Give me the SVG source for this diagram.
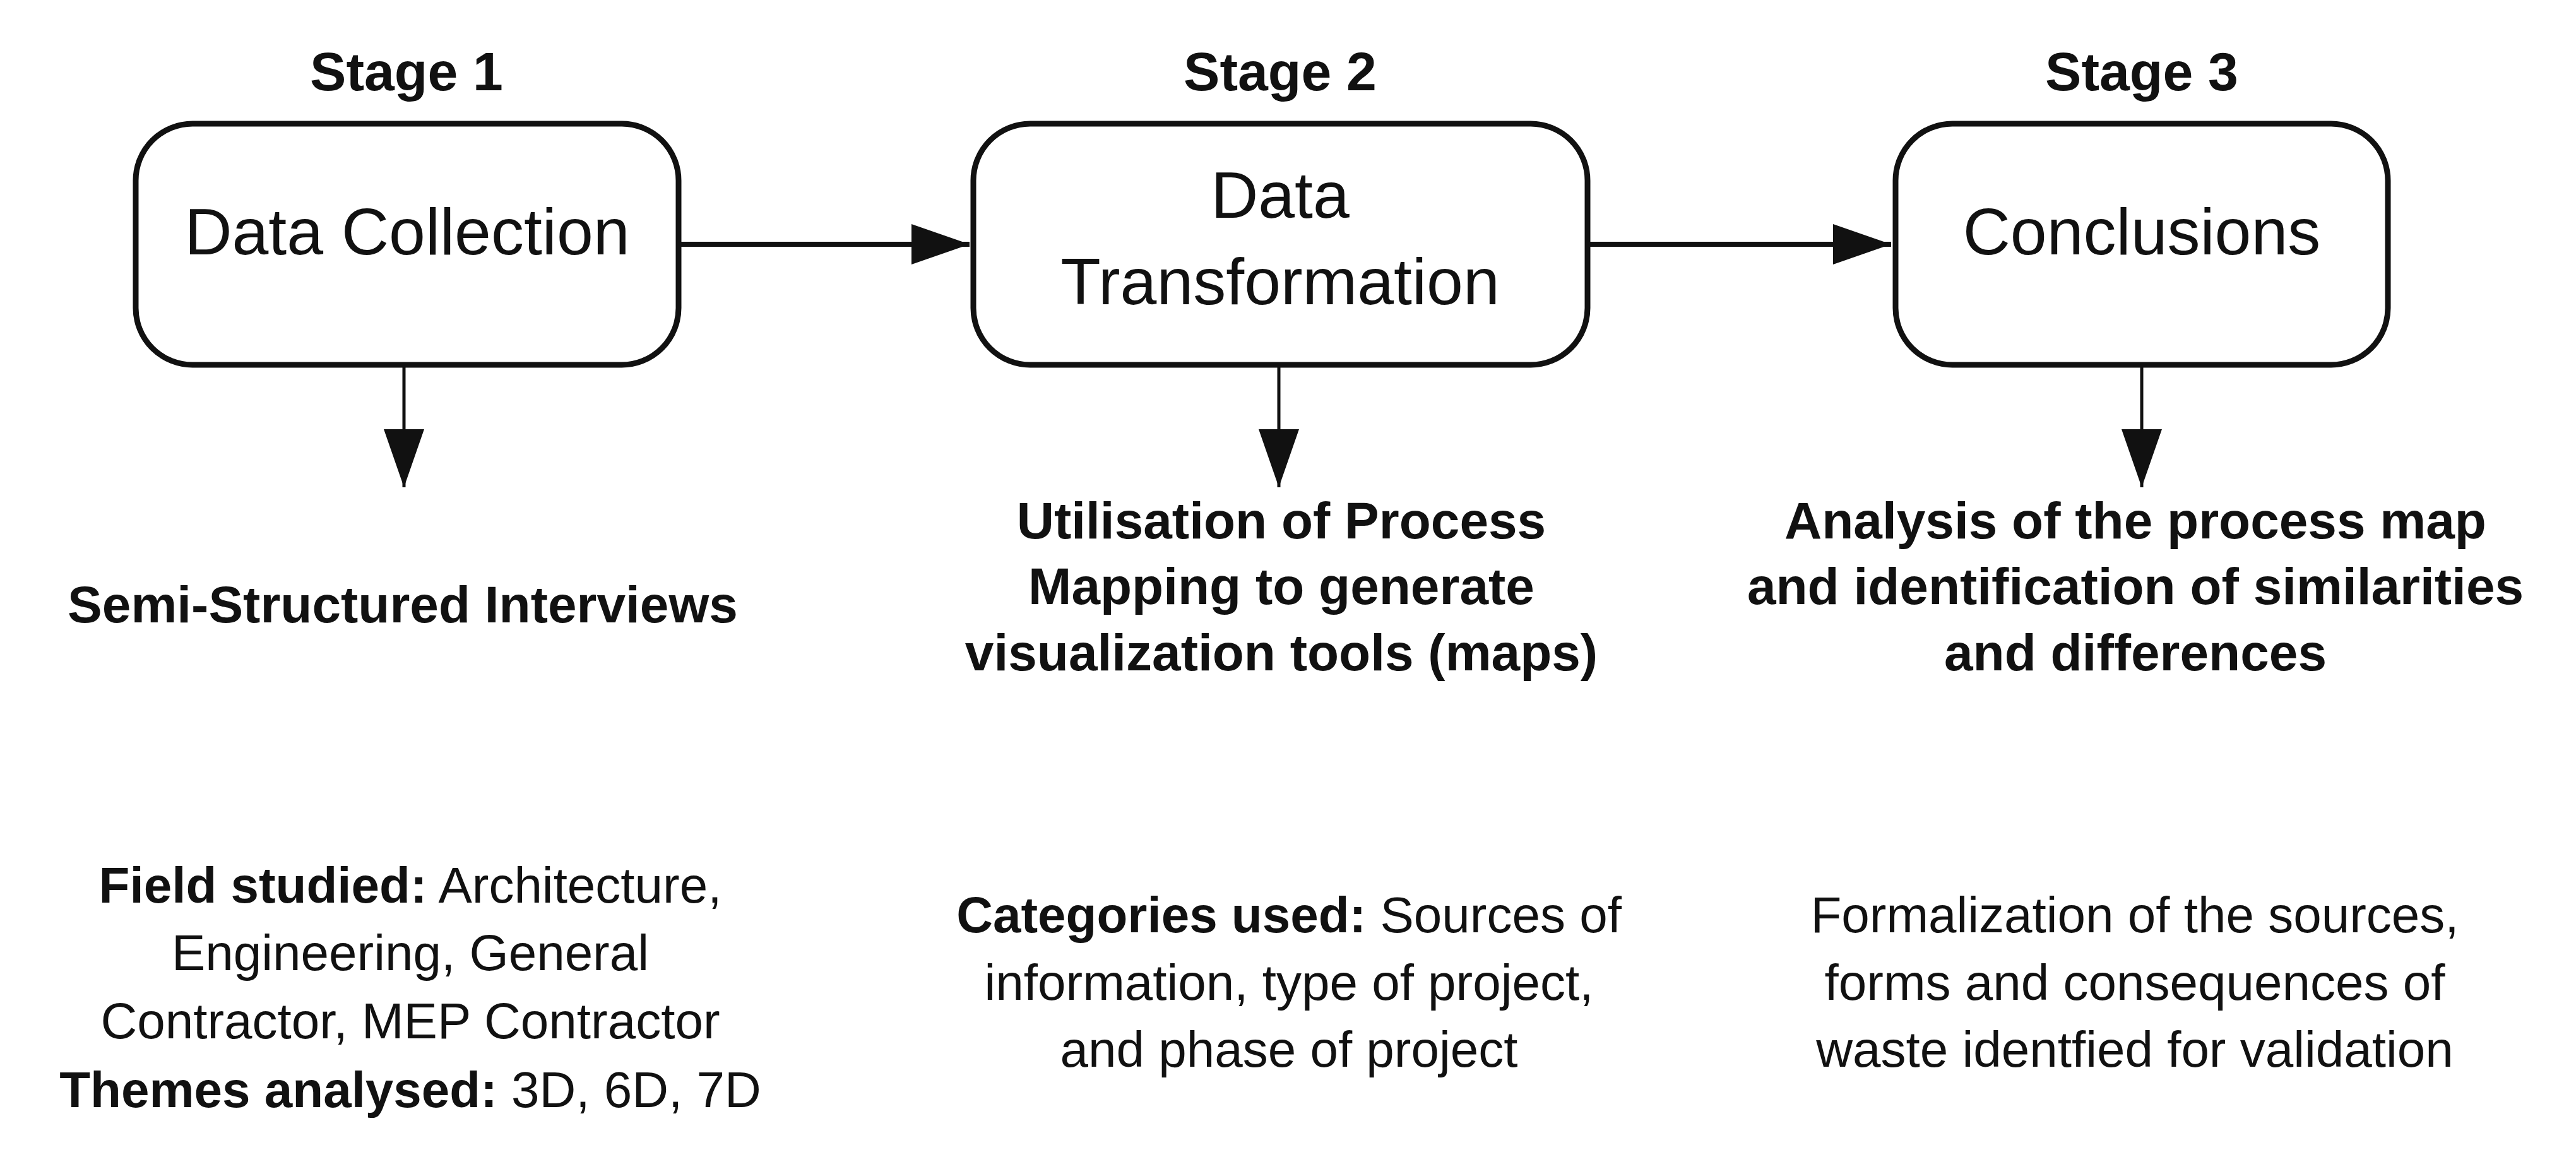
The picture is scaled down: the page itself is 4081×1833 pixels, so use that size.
<svg xmlns="http://www.w3.org/2000/svg" width="4081" height="1833" viewBox="0 0 4081 1833">
<style>
text{font-family:"Liberation Sans",Arial,sans-serif;fill:#111;text-anchor:middle}
.st{font-size:86px;font-weight:bold}
.nt{font-size:104px}
.bd{font-size:82px;font-weight:bold}
.rg{font-size:80px}
.box{fill:#fff;stroke:#111;stroke-width:9}
.con{stroke:#111;stroke-width:8;fill:none}
.conv{stroke:#111;stroke-width:5;fill:none}
</style>
<defs>
<marker id="ah" markerUnits="userSpaceOnUse" markerWidth="95" markerHeight="70" refX="92" refY="32" orient="auto" viewBox="0 0 95 64"><path d="M0,0 L92,32 L0,64 Z" fill="#111"/></marker>
</defs>
<rect width="4081" height="1833" fill="#fff"/>
<g id="stage1">
<text class="st" x="644" y="143">Stage 1</text>
<rect class="box" x="215" y="196" width="860" height="382" rx="90"/>
<text class="nt" x="645" y="403">Data Collection</text>
</g>
<g id="stage2">
<text class="st" x="2028" y="143">Stage 2</text>
<rect class="box" x="1542" y="196" width="973" height="382" rx="90"/>
<text class="nt" x="2028" y="345">Data</text>
<text class="nt" x="2028" y="482">Transformation</text>
</g>
<g id="stage3">
<text class="st" x="3393" y="143">Stage 3</text>
<rect class="box" x="3003" y="196" width="780" height="382" rx="90"/>
<text class="nt" x="3393" y="403">Conclusions</text>
</g>
<g id="connectors">
<line class="con" x1="1079" y1="387" x2="1536" y2="387" marker-end="url(#ah)"/>
<line class="con" x1="2519" y1="387" x2="2996" y2="387" marker-end="url(#ah)"/>
<line class="conv" x1="640" y1="582" x2="640" y2="772" marker-end="url(#ah)"/>
<line class="conv" x1="2026" y1="582" x2="2026" y2="772" marker-end="url(#ah)"/>
<line class="conv" x1="3393" y1="582" x2="3393" y2="772" marker-end="url(#ah)"/>
</g>
<g id="out1">
<text class="bd" x="638" y="986">Semi-Structured Interviews</text>
</g>
<g id="out2">
<text class="bd" x="2030" y="853">Utilisation of Process</text>
<text class="bd" x="2030" y="957">Mapping to generate</text>
<text class="bd" x="2030" y="1062">visualization tools (maps)</text>
</g>
<g id="out3">
<text class="bd" x="3383" y="853">Analysis of the process map</text>
<text class="bd" x="3383" y="957">and identification of similarities</text>
<text class="bd" x="3383" y="1062">and differences</text>
</g>
<g id="detail1">
<text class="rg" x="650" y="1430"><tspan font-weight="bold">Field studied:</tspan> Architecture,</text>
<text class="rg" x="650" y="1537">Engineering, General</text>
<text class="rg" x="650" y="1645">Contractor, MEP Contractor</text>
<text class="rg" x="650" y="1754"><tspan font-weight="bold">Themes analysed:</tspan> 3D, 6D, 7D</text>
</g>
<g id="detail2">
<text class="rg" x="2042" y="1477"><tspan font-weight="bold">Categories used:</tspan> Sources of</text>
<text class="rg" x="2042" y="1584">information, type of project,</text>
<text class="rg" x="2042" y="1690">and phase of project</text>
</g>
<g id="detail3">
<text class="rg" x="3382" y="1477">Formalization of the sources,</text>
<text class="rg" x="3382" y="1584">forms and consequences of</text>
<text class="rg" x="3382" y="1690">waste identfied for validation</text>
</g>
</svg>
